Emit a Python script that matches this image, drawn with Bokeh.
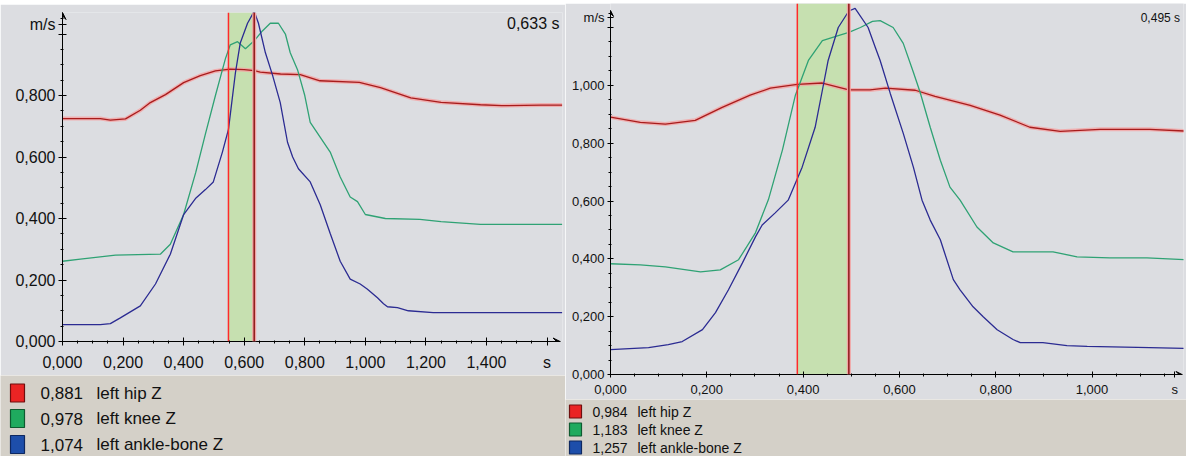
from bokeh.plotting import figure
from bokeh.layouts import row, column
from bokeh.models import (Range1d, FixedTicker, Span, BoxAnnotation, Label,
                          Arrow, VeeHead)
from bokeh.core.properties import value
from bokeh.embed import file_html
from bokeh.resources import INLINE
import numpy as np

FONT = "Liberation Sans"
PLOT_BG = "#dcdde1"
LEGEND_BG = "#d4d0c8"

# ---- trial 1 (left panel) ----
hip1_t = [0.0, 0.125, 0.158, 0.208, 0.257, 0.29, 0.34, 0.40, 0.455, 0.505, 0.554, 0.60,
          0.633, 0.653, 0.72, 0.785, 0.85, 0.98, 1.05, 1.15, 1.25, 1.38, 1.45, 1.58, 1.65]
hip1_v = [0.725, 0.725, 0.720, 0.724, 0.752, 0.777, 0.803, 0.842, 0.865, 0.880, 0.886, 0.884,
          0.881, 0.876, 0.870, 0.868, 0.848, 0.843, 0.826, 0.792, 0.778, 0.770, 0.767, 0.769, 0.769]

knee1_t = [0.0, 0.059, 0.175, 0.323, 0.356, 0.40, 0.44, 0.472, 0.505, 0.538, 0.554, 0.578,
           0.604, 0.633, 0.66, 0.686, 0.713, 0.736, 0.752, 0.776, 0.80, 0.818, 0.884, 0.917,
           0.95, 0.974, 1.0, 1.066, 1.18, 1.25, 1.38, 1.65]
knee1_v = [0.261, 0.268, 0.281, 0.284, 0.316, 0.413, 0.55, 0.675, 0.80, 0.92, 0.965, 0.975,
           0.952, 0.978, 1.01, 1.035, 1.035, 1.0, 0.939, 0.884, 0.80, 0.713, 0.616, 0.535,
           0.47, 0.455, 0.413, 0.40, 0.397, 0.39, 0.381, 0.381]

ankle1_t = [0.0, 0.125, 0.158, 0.191, 0.257, 0.307, 0.356, 0.40, 0.439, 0.472, 0.498, 0.528,
            0.548, 0.571, 0.587, 0.611, 0.633, 0.647, 0.67, 0.693, 0.719, 0.743, 0.76, 0.779,
            0.818, 0.851, 0.884, 0.917, 0.95, 0.983, 1.006, 1.04, 1.06, 1.073, 1.106, 1.142,
            1.224, 1.65]
ankle1_v = [0.055, 0.055, 0.058, 0.077, 0.116, 0.187, 0.284, 0.413, 0.465, 0.494, 0.519, 0.616,
            0.69, 0.874, 0.971, 1.035, 1.074, 1.035, 0.939, 0.868, 0.777, 0.648, 0.60, 0.562,
            0.519, 0.445, 0.351, 0.261, 0.203, 0.187, 0.171, 0.142, 0.123, 0.113, 0.110, 0.100,
            0.094, 0.094]

cursor1 = (0.548, 0.633)

# ---- trial 2 (right panel) ----
hip2_t = [0.0, 0.062, 0.114, 0.176, 0.232, 0.29, 0.332, 0.388, 0.44, 0.495, 0.539, 0.571,
          0.633, 0.674, 0.747, 0.809, 0.871, 0.934, 1.017, 1.12, 1.193]
hip2_v = [0.89, 0.872, 0.866, 0.879, 0.924, 0.966, 0.99, 1.003, 1.008, 0.984, 0.984, 0.99,
          0.983, 0.962, 0.931, 0.897, 0.855, 0.841, 0.848, 0.848, 0.842]

knee2_t = [0.0, 0.062, 0.114, 0.187, 0.228, 0.266, 0.301, 0.328, 0.357, 0.384, 0.411, 0.44,
           0.473, 0.495, 0.519, 0.544, 0.56, 0.587, 0.608, 0.629, 0.643, 0.664, 0.685, 0.705,
           0.726, 0.761, 0.795, 0.836, 0.919, 0.969, 1.037, 1.114, 1.193]
knee2_v = [0.383, 0.379, 0.372, 0.355, 0.362, 0.397, 0.49, 0.605, 0.776, 0.966, 1.086, 1.155,
           1.172, 1.183, 1.2, 1.221, 1.224, 1.2, 1.145, 1.045, 0.976, 0.855, 0.741, 0.648,
           0.603, 0.51, 0.455, 0.424, 0.424, 0.407, 0.403, 0.403, 0.397]

ankle2_t = [0.0, 0.079, 0.12, 0.149, 0.191, 0.218, 0.245, 0.274, 0.301, 0.315, 0.342, 0.369,
            0.398, 0.425, 0.44, 0.452, 0.473, 0.495, 0.508, 0.535, 0.55, 0.56, 0.581, 0.608,
            0.629, 0.647, 0.664, 0.685, 0.712, 0.726, 0.753, 0.774, 0.803, 0.836, 0.851,
            0.898, 0.948, 0.99, 1.12, 1.193]
ankle2_v = [0.086, 0.093, 0.103, 0.114, 0.155, 0.214, 0.293, 0.386, 0.476, 0.517, 0.559, 0.603,
            0.717, 0.855, 0.983, 1.086, 1.2, 1.257, 1.266, 1.2, 1.131, 1.086, 0.972, 0.834,
            0.717, 0.603, 0.534, 0.466, 0.328, 0.293, 0.234, 0.2, 0.155, 0.121, 0.11,
            0.11, 0.1, 0.097, 0.093, 0.09]

cursor2 = (0.388, 0.495)

series_names = ["left hip Z", "left knee Z", "left ankle-bone Z"]
line_colors = ["#a81c1c", "#2fa274", "#2b2b92"]
swatch_colors = ["#ea2424", "#1faa5e", "#1d4eaa"]
swatch_edges = ["#6e0e0e", "#0e5a30", "#0e2860"]


def comma(v, nd=3):
    return f"{v:.{nd}f}".replace(".", ",")


def blank(w, h, color):
    p = figure(width=w, height=h, output_backend="svg", toolbar_location=None,
               x_axis_type=None, y_axis_type=None, frame_align=False,
               min_border_left=0, min_border_right=0, min_border_top=0, min_border_bottom=0)
    p.background_fill_color = color
    p.border_fill_color = color
    p.outline_line_color = None
    p.grid.visible = False
    return p


def panel(series, cursor, cfg):
    p = figure(width=cfg["w"], height=cfg["h"], output_backend="svg", toolbar_location=None,
               x_range=Range1d(0, cfg["xmax"]), y_range=Range1d(0, cfg["ymax"]),
               min_border_left=cfg["bl"], min_border_right=cfg["br"],
               min_border_top=cfg["bt"], min_border_bottom=cfg["bb"], frame_align=False)
    p.background_fill_color = PLOT_BG
    p.border_fill_color = PLOT_BG
    p.outline_line_color = None
    p.grid.visible = False

    fs = cfg["fs"]
    # axes with decimal-comma labels, unit labels on their own ticks, arrow heads
    xt = cfg["xticks"] + [cfg["xunit_at"]]
    p.xaxis.ticker = FixedTicker(ticks=xt, minor_ticks=list(np.round(np.arange(0, cfg["xarrow"], 0.05), 3)))
    p.xaxis.major_label_overrides = {t: comma(t) for t in cfg["xticks"]}
    p.xaxis.major_label_overrides[cfg["xunit_at"]] = "s"
    yt = cfg["yticks"] + [cfg["yunit_at"]]
    p.yaxis.ticker = FixedTicker(ticks=yt, minor_ticks=list(np.round(np.arange(0, cfg["yarrow"], 0.05), 3)))
    p.yaxis.major_label_overrides = {t: comma(t) for t in cfg["yticks"]}
    p.yaxis.major_label_overrides[cfg["yticks"][-1]] = ""
    p.yaxis.major_label_overrides[cfg["yunit_at"]] = "m/s"
    p.xaxis.bounds = (0, cfg["xarrow"])
    p.yaxis.bounds = (0, cfg["yarrow"])
    for ax in (p.xaxis[0], p.yaxis[0]):
        ax.axis_line_color = "black"
        ax.major_tick_line_color = "black"
        ax.minor_tick_line_color = "black"
        ax.major_tick_in = cfg["tick"]
        ax.major_tick_out = cfg["tick"]
        ax.minor_tick_in = 1
        ax.minor_tick_out = 2
        ax.major_label_text_font = FONT
        ax.major_label_text_font_size = f"{fs}px"
        ax.major_label_text_color = "#111111"
    p.xaxis.major_label_standoff = cfg["xstand"]
    p.yaxis.major_label_standoff = cfg["ystand"]

    head = dict(size=cfg["head"], fill_color="black", line_color="black")
    p.add_layout(Arrow(end=VeeHead(**head), x_start=cfg["xarrow"] * 0.97, y_start=0,
                       x_end=cfg["xarrow"], y_end=0, line_color="black"))
    p.add_layout(Arrow(end=VeeHead(**head), x_start=0, y_start=cfg["yarrow"] * 0.97,
                       x_end=0, y_end=cfg["yarrow"], line_color="black"))

    # cursor interval
    c0, c1 = cursor
    p.add_layout(BoxAnnotation(left=c0, right=c1, fill_color="#c6e0b0", fill_alpha=1,
                               line_color=None, level="underlay"))

    for (t, v), col in zip(series, line_colors):
        if col == line_colors[0]:
            p.line(t, v, line_color="#f4a4a4", line_width=4, line_alpha=0.8)
        p.line(t, v, line_color=col, line_width=1.3)

    p.add_layout(Span(location=c0, dimension="height", line_color="#ff2a2a", line_width=1.5))
    p.add_layout(Span(location=c1, dimension="height", line_color="#f2a2a2", line_width=4))
    p.add_layout(Span(location=c1, dimension="height", line_color="#8c1a1a", line_width=1.5))

    p.add_layout(Label(x=cfg["xmax"] * 0.994, y=cfg["curs_y"], text=comma(c1) + " s",
                       text_align="right", text_baseline="middle", text_font=FONT,
                       text_color="#111111", text_font_size=f"{cfg['cfs']}px"))
    return p


def legend(series, cursor, cfg):
    w, h = cfg["w"], cfg["h"]
    p = figure(width=w, height=h, output_backend="svg", toolbar_location=None,
               x_range=Range1d(0, w), y_range=Range1d(h, 0),
               x_axis_type=None, y_axis_type=None, frame_align=False,
               min_border_left=0, min_border_right=0, min_border_top=0, min_border_bottom=0)
    p.background_fill_color = LEGEND_BG
    p.border_fill_color = LEGEND_BG
    p.outline_line_color = None
    p.grid.visible = False
    rows = cfg["rows"]
    vals = [comma(float(np.interp(cursor[1], t, v))) for t, v in series]
    p.rect(x=[cfg["sq_x"]] * 3, y=rows, width=cfg["sq_w"], height=cfg["sq_h"],
           fill_color=swatch_colors, line_color=swatch_edges, line_width=1.2)
    txt = dict(text_font=value(FONT), text_font_size=f"{cfg['fs']}px",
               text_baseline="middle", text_color="#111111")
    p.text(x=[cfg["val_x"]] * 3, y=rows, text=vals, **txt)
    p.text(x=[cfg["name_x"]] * 3, y=rows, text=series_names, **txt)
    return p


s1 = [(hip1_t, hip1_v), (knee1_t, knee1_v), (ankle1_t, ankle1_v)]
s2 = [(hip2_t, hip2_v), (knee2_t, knee2_v), (ankle2_t, ankle2_v)]

cfg1 = dict(w=565, h=371, bl=62, br=3, bt=8, bb=34, xmax=1.651, ymax=1.07,
            xarrow=1.643, yarrow=1.07, xticks=[0.0, 0.2, 0.4, 0.6, 0.8, 1.0, 1.2, 1.4],
            xunit_at=1.6, yticks=[0.0, 0.2, 0.4, 0.6, 0.8, 1.0], yunit_at=1.03,
            fs=16, tick=4, xstand=8, ystand=3, head=7, curs_y=1.034, cfs=16)
cfg2 = dict(w=621, h=396, bl=45, br=3, bt=0, bb=24, xmax=1.19, ymax=1.283,
            xarrow=1.187, yarrow=1.259, xticks=[0.0, 0.2, 0.4, 0.6, 0.8, 1.0],
            xunit_at=1.172, yticks=[0.0, 0.2, 0.4, 0.6, 0.8, 1.0, 1.2], yunit_at=1.234,
            fs=13, tick=3, xstand=4, ystand=3, head=6, curs_y=1.234, cfs=12)

left = column(blank(565, 4, "#c9c9c3"),
              panel(s1, cursor1, cfg1),
              legend(s1, cursor1, dict(w=565, h=81, rows=[17.5, 43, 69], sq_x=17, sq_w=14,
                                       sq_h=18, val_x=40, name_x=96, fs=17)))
right = column(blank(621, 3, "#cfcfca"),
               panel(s2, cursor2, cfg2),
               legend(s2, cursor2, dict(w=621, h=57, rows=[12, 30, 48], sq_x=10, sq_w=12,
                                        sq_h=13, val_x=27, name_x=72, fs=14)))
page = row(left, right)

open("out.html", "w").write(file_html(page, INLINE))
